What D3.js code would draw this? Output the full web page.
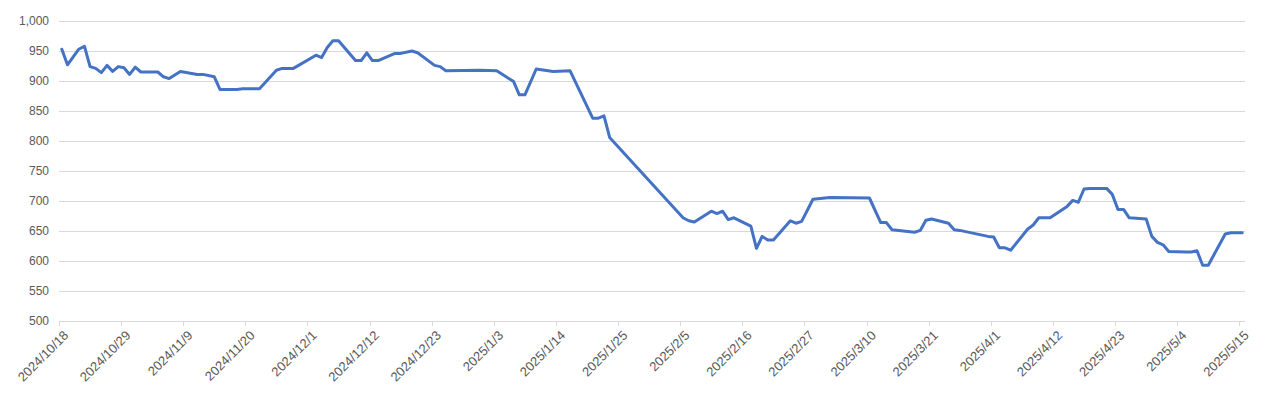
<!DOCTYPE html>
<html>
<head>
<meta charset="utf-8">
<script src="https://cdn.jsdelivr.net/npm/d3@7"></script>
<style>
  body { margin: 0; background: #fff; }
  text { font-family: "Liberation Sans", Arial, sans-serif; fill: #595959; }
</style>
</head>
<body>
<script>
// price series
var dates = [
  '2024-10-18','2024-10-19','2024-10-21','2024-10-22','2024-10-23','2024-10-24','2024-10-25','2024-10-26',
  '2024-10-27','2024-10-28','2024-10-29','2024-10-30','2024-10-31','2024-11-01','2024-11-04','2024-11-05',
  '2024-11-06','2024-11-08','2024-11-11','2024-11-12','2024-11-14','2024-11-15','2024-11-18','2024-11-19',
  '2024-11-22','2024-11-25','2024-11-26','2024-11-28','2024-12-02','2024-12-03','2024-12-04','2024-12-05',
  '2024-12-06','2024-12-09','2024-12-10','2024-12-11','2024-12-12','2024-12-13','2024-12-16','2024-12-17',
  '2024-12-19','2024-12-20','2024-12-23','2024-12-24','2024-12-25','2024-12-31','2025-01-03','2025-01-06',
  '2025-01-07','2025-01-08','2025-01-10','2025-01-13','2025-01-16','2025-01-20','2025-01-21','2025-01-22',
  '2025-01-23','2025-02-05','2025-02-06','2025-02-07','2025-02-10','2025-02-11','2025-02-12','2025-02-13',
  '2025-02-14','2025-02-17','2025-02-18','2025-02-19','2025-02-20','2025-02-21','2025-02-24','2025-02-25',
  '2025-02-26','2025-02-28','2025-03-03','2025-03-10','2025-03-12','2025-03-13','2025-03-14','2025-03-18',
  '2025-03-19','2025-03-20','2025-03-21','2025-03-24','2025-03-25','2025-03-26','2025-03-31','2025-04-01',
  '2025-04-02','2025-04-03','2025-04-04','2025-04-07','2025-04-08','2025-04-09','2025-04-11','2025-04-14',
  '2025-04-15','2025-04-16','2025-04-17','2025-04-18','2025-04-21','2025-04-22','2025-04-23','2025-04-24',
  '2025-04-25','2025-04-28','2025-04-29','2025-04-30','2025-05-01','2025-05-02','2025-05-05','2025-05-06',
  '2025-05-07','2025-05-08','2025-05-09','2025-05-12','2025-05-13','2025-05-15'
];
var values = [
  953,927,953,958,924,921,914,926,
  916,924,922,911,923,915,915,907,
  904,916,911,911,907,886,886,887,
  887,918,921,921,943,939,956,967,
  967,934,934,947,934,934,946,946,
  950,947,926,924,917,918,917,899,
  877,877,920,916,917,838,838,842,
  806,672,667,665,683,679,683,669,
  672,658,621,641,635,635,667,663,
  666,703,706,705,664,664,652,648,
  651,668,670,663,652,651,641,640,
  622,622,618,653,660,672,672,691,
  701,698,720,721,721,711,686,686,
  672,670,641,631,627,616,615,615,
  617,593,593,645,647,647
];
var yTicks = [500,550,600,650,700,750,800,850,900,950,1000];
var tickStepDays = 11;

var W = 1270, H = 396;
var plotLeft = 59, plotRight = 1245, plotTop = 21, plotBottom = 321;

var parse = d3.utcParse('%Y-%m-%d');
var start = parse('2024-10-18');
var end = parse('2025-05-16');

var x = d3.scaleUtc().domain([start, end]).range([plotLeft, plotRight]);
var y = d3.scaleLinear().domain([500, 1000]).range([plotBottom, plotTop]);

var svg = d3.select('body').append('svg')
  .attr('width', W)
  .attr('height', H);

// gridlines
svg.append('g')
  .selectAll('line')
  .data(yTicks)
  .enter()
  .append('line')
  .attr('x1', plotLeft)
  .attr('x2', plotRight)
  .attr('y1', function(d){ return Math.round(y(d)) + 0.5; })
  .attr('y2', function(d){ return Math.round(y(d)) + 0.5; })
  .attr('stroke', '#d9d9d9')
  .attr('stroke-width', 1);

// y labels
svg.append('g')
  .selectAll('text')
  .data(yTicks)
  .enter()
  .append('text')
  .attr('x', 49)
  .attr('y', function(d){ return y(d); })
  .attr('dy', '0.35em')
  .attr('text-anchor', 'end')
  .style('font-size', '12px')
  .text(d3.format(','));

// x ticks, every 11 days
var xTicks = d3.range(0, 210, tickStepDays).map(function(d){ return d3.utcDay.offset(start, d); });
var fmt = d3.utcFormat('%Y/%-m/%-d');

var xg = svg.append('g');
xg.selectAll('line')
  .data(xTicks)
  .enter()
  .append('line')
  .attr('x1', function(d){ return Math.round(x(d)) + 0.5; })
  .attr('x2', function(d){ return Math.round(x(d)) + 0.5; })
  .attr('y1', plotBottom)
  .attr('y2', plotBottom + 5)
  .attr('stroke', '#d9d9d9');

xg.selectAll('text')
  .data(xTicks)
  .enter()
  .append('text')
  .attr('transform', function(d){ return 'translate(' + (x(d) + 7) + ',' + (plotBottom + 12) + ') rotate(-45)'; })
  .attr('text-anchor', 'end')
  .attr('dy', '0.35em')
  .style('font-size', '13px')
  .text(fmt);

// the series line, points sit mid-day
var points = dates.map(function(d, i){ return {date: parse(d), value: values[i]}; });
var line = d3.line()
  .x(function(d){ return x(d3.utcHour.offset(d.date, 12)); })
  .y(function(d){ return y(d.value); });

svg.append('path')
  .datum(points)
  .attr('d', line)
  .attr('fill', 'none')
  .attr('stroke', '#4472c4')
  .attr('stroke-width', 3)
  .attr('stroke-linejoin', 'round')
  .attr('stroke-linecap', 'round');
</script>
</body>
</html>
